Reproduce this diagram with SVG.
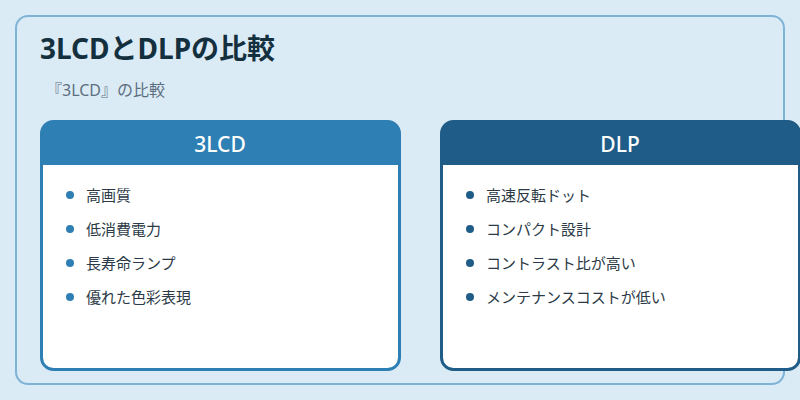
<svg xmlns="http://www.w3.org/2000/svg" width="800" height="400" viewBox="0 0 800 400">
<style>
text{font-family:"Noto Sans","Noto Sans CJK JP",sans-serif}
.item{font-size:15px;fill:#2b3a46}
.hd{font-size:21px;font-weight:500;fill:#fff;text-anchor:middle}
</style>
<rect width="800" height="400" fill="#dbebf6"/>
<rect x="16" y="16" width="768" height="368" rx="12" fill="#dbebf6" stroke="#7db3d6" stroke-width="2"/>
<text x="40" y="59" font-size="28" font-weight="700" fill="#14303f">3LCDとDLPの比較</text>
<text x="46" y="96" font-size="16" fill="#5b6f80">『3LCD』の比較</text>
<g id="card-3lcd">
<rect x="41.5" y="121.5" width="358" height="248" rx="12" fill="#fff" stroke="#2e7fb4" stroke-width="3"/>
<path d="M41.5 165 V133.5 a12 12 0 0 1 12 -12 H387.5 a12 12 0 0 1 12 12 V165 Z" fill="#2e7fb4"/>
<text class="hd" x="220" y="152">3LCD</text>
<g fill="#2e7fb4"><circle cx="70" cy="195" r="4"/><circle cx="70" cy="229" r="4"/><circle cx="70" cy="263" r="4"/><circle cx="70" cy="297" r="4"/></g>
<text class="item" x="86" y="201">高画質</text>
<text class="item" x="86" y="235">低消費電力</text>
<text class="item" x="86" y="269">長寿命ランプ</text>
<text class="item" x="86" y="303">優れた色彩表現</text>
</g>
<g id="card-dlp">
<rect x="441.5" y="121.5" width="358" height="248" rx="12" fill="#fff" stroke="#1f5c87" stroke-width="3"/>
<path d="M441.5 165 V133.5 a12 12 0 0 1 12 -12 H787.5 a12 12 0 0 1 12 12 V165 Z" fill="#1f5c87"/>
<text class="hd" x="620" y="152">DLP</text>
<g fill="#1f5c87"><circle cx="470" cy="195" r="4"/><circle cx="470" cy="229" r="4"/><circle cx="470" cy="263" r="4"/><circle cx="470" cy="297" r="4"/></g>
<text class="item" x="486" y="201">高速反転ドット</text>
<text class="item" x="486" y="235">コンパクト設計</text>
<text class="item" x="486" y="269">コントラスト比が高い</text>
<text class="item" x="486" y="303">メンテナンスコストが低い</text>
</g>
<g id="connectors"/>
</svg>
